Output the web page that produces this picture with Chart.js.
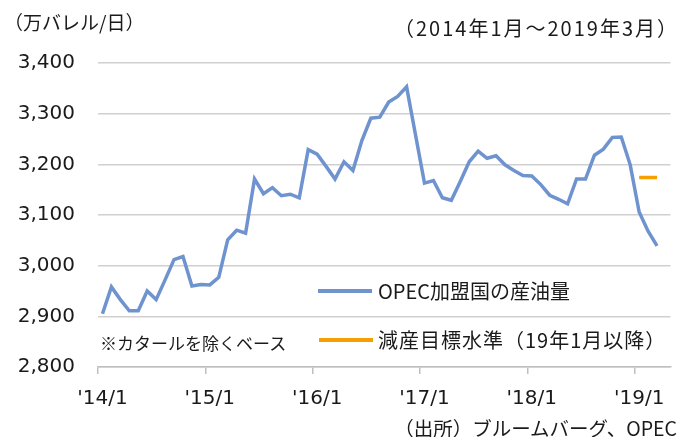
<!DOCTYPE html>
<html>
<head>
<meta charset="utf-8">
<script src="https://cdn.jsdelivr.net/npm/chart.js@4.4.1/dist/chart.umd.min.js"></script>
<style>
  body { margin: 0; background: #fff; }
  #wrap { position: relative; width: 679px; height: 437px; font-family: "Noto Sans CJK JP", sans-serif; color: #1a1a1a; }
  .t { position: absolute; white-space: nowrap; font-size: 20px; line-height: 24px; }
  .key { position: absolute; width: 54px; height: 3.5px; }
</style>
</head>
<body>
<div id="wrap">
  <canvas id="chart" width="679" height="437"></canvas>
  <div class="t" style="left:4px;top:10px;font-size:19px">（万バレル/日）</div>
  <div class="t" style="right:0px;top:16px;letter-spacing:2px">（2014年1月～2019年3月）</div>
  <div class="key" style="left:318px;top:289px;background:#6e93cf"></div>
  <div class="t" style="left:378px;top:279px">OPEC加盟国の産油量</div>
  <div class="key" style="left:319px;top:338px;background:#f5a000"></div>
  <div class="t" style="left:378px;top:328px;letter-spacing:1px">減産目標水準（19年1月以降）</div>
  <div class="t" style="left:100px;top:331px;font-size:17px">※カタールを除くベース</div>
  <div class="t" style="right:2px;top:416px;font-size:19.5px">（出所）ブルームバーグ、OPEC</div>
</div>
<script>
// monthly categories 2014/1 .. 2019/4 (last one empty, as in the original axis)
const years = [2014, 2015, 2016, 2017, 2018, 2019];
const categories = [];
years.forEach(y => {
  for (let m = 1; m <= 12; m++) {
    if (y === 2019 && m > 4) break;
    categories.push(y + "/" + m);
  }
});

const tickLabels = ["'14/1", "'15/1", "'16/1", "'17/1", "'18/1", "'19/1"];

// OPEC crude output, 10k barrels/day (2014/1 - 2019/3)
const production = [
  2905, 2958, 2933, 2911, 2911, 2950, 2933, 2972, 3012, 3018, 2960, 2963,
  2962, 2977, 3051, 3070, 3064, 3171, 3142, 3154, 3138, 3141, 3134, 3229,
  3220, 3196, 3171, 3205, 3188, 3247, 3291, 3293, 3323, 3334, 3353, 3258,
  3163, 3168, 3134, 3129, 3166, 3205, 3226, 3212, 3217, 3199, 3188, 3178,
  3177, 3160, 3139, 3131, 3122, 3171, 3171, 3218, 3230, 3253, 3254, 3199,
  3106, 3068, 3039
];

// production cut target (from 2019/1)
const targetMonths = ["2019/1", "2019/2", "2019/3"];
const targetLevel = [3174, 3174, 3174];

const data = {
  labels: categories,
  datasets: [
    {
      label: "OPEC加盟国の産油量",
      data: production,
      borderColor: "#6e93cf",
      borderWidth: 3.5,
      pointRadius: 0,
      tension: 0,
    },
    {
      label: "減産目標水準（19年1月以降）",
      data: targetMonths.map((m, i) => ({ x: m, y: targetLevel[i] })),
      borderColor: "#f5a000",
      borderWidth: 3.5,
      pointRadius: 0,
      tension: 0,
    },
  ],
};

const config = {
  type: "line",
  data: data,
  options: {
    responsive: false,
    animation: false,
    layout: { padding: { top: 63, right: 1, left: 0, bottom: 0 } },
    plugins: { legend: { display: false }, tooltip: { enabled: false } },
    scales: {
      x: {
        offset: true,
        afterFit: (s) => { s.height = 70; },
        border: { display: true, color: "#bfbfbf", width: 1.5 },
        grid: {
          offset: true,
          drawOnChartArea: false,
          drawTicks: true,
          tickLength: 7,
          lineWidth: 1.5,
          tickColor: (c) => (c.index % 12 === 0 ? "#bfbfbf" : "rgba(0,0,0,0)"),
        },
        ticks: {
          autoSkip: false,
          maxRotation: 0,
          padding: 13,
          color: "#1a1a1a",
          font: { family: "DejaVu Sans", size: 20 },
          callback: (v, i) => (i % 12 === 0 ? tickLabels[i / 12] : ""),
        },
      },
      y: {
        min: 2800,
        max: 3400,
        afterFit: (s) => { s.width = 98; },
        border: { display: false },
        grid: { color: "#d0d0d0", lineWidth: 1.5, drawTicks: false },
        ticks: {
          stepSize: 100,
          padding: 23,
          color: "#1a1a1a",
          font: { family: "DejaVu Sans", size: 20 },
          callback: (v) => v.toLocaleString("en-US"),
        },
      },
    },
  },
};

new Chart(document.getElementById("chart"), config);
</script>
</body>
</html>
